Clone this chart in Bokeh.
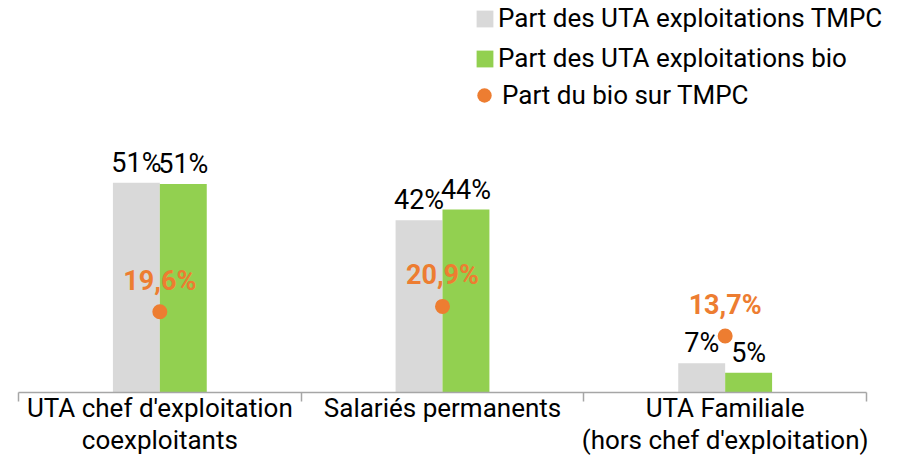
from bokeh.plotting import figure
from bokeh.models import (Range1d, FixedTicker, LinearAxis, Legend, LegendItem,
                          ColumnDataSource, LabelSet)
from bokeh.core.properties import value
from bokeh.embed import file_html
from bokeh.resources import INLINE

# ---- data ----
categories = ["UTA chef d'exploitation\ncoexploitants",
              "Salariés permanents",
              "UTA Familiale\n(hors chef d'exploitation)"]
part_uta_tmpc = [50.9, 41.8, 7.1]
part_uta_bio = [50.6, 44.4, 4.8]
part_bio_sur_tmpc = [19.6, 20.9, 13.7]
series_names = ["Part des UTA exploitations TMPC",
                "Part des UTA exploitations bio",
                "Part du bio sur TMPC"]

GREY = "#D9D9D9"
GREEN = "#92D050"
ORANGE = "#ED7D31"
AXIS = "#A6A6A6"
FONT = "Roboto"
BAR_W = 0.166

W, H = 887, 457
LEFT = 18            # left border (px)
AXIS_LEN = 848       # px spanned by the categories
BOTTOM = 64          # px below the baseline
PX_PER_PCT = 4.13

n = len(categories)
centers = [i + 0.5 for i in range(n)]
boundaries = [float(i) for i in range(n + 1)]

src = ColumnDataSource(dict(
    center=centers,
    x_tmpc=[c - BAR_W / 2 for c in centers],
    x_bio=[c + BAR_W / 2 for c in centers],
    tmpc=part_uta_tmpc,
    bio=part_uta_bio,
    ratio=part_bio_sur_tmpc,
    lab_tmpc=[f"{round(v)}%" for v in part_uta_tmpc],
    lab_bio=[f"{round(v)}%" for v in part_uta_bio],
    lab_ratio=[f"{v:.1f}%".replace(".", ",") for v in part_bio_sur_tmpc],
))

frame_w = W - LEFT
frame_h = H - BOTTOM
p = figure(width=W, height=H,
           x_range=Range1d(0, n * frame_w / AXIS_LEN),
           y_range=Range1d(0, frame_h / PX_PER_PCT),
           output_backend="svg", toolbar_location=None,
           x_axis_location=None, y_axis_location=None,
           min_border_left=LEFT, min_border_right=0, min_border_top=0,
           min_border_bottom=BOTTOM)
p.grid.visible = False
p.outline_line_color = None
p.background_fill_color = "white"
p.border_fill_color = "white"

r_tmpc = p.vbar(x="x_tmpc", top="tmpc", width=BAR_W, source=src,
                fill_color=GREY, line_color=None)
r_bio = p.vbar(x="x_bio", top="bio", width=BAR_W, source=src,
               fill_color=GREEN, line_color=None)
r_ratio = p.scatter(x="center", y="ratio", size=15, source=src,
                    fill_color=ORANGE, line_color=None)

# x axis: category labels at centres, boundary ticks as minor ticks
xaxis = LinearAxis(ticker=FixedTicker(ticks=centers, minor_ticks=boundaries),
                   bounds=(0, n),
                   major_label_overrides={c: lab for c, lab in zip(centers, categories)},
                   axis_line_color=AXIS, axis_line_width=1.5,
                   major_tick_line_color=None, major_tick_out=0, major_tick_in=0,
                   minor_tick_line_color=AXIS, minor_tick_line_width=1.5,
                   minor_tick_out=9, minor_tick_in=0,
                   major_label_standoff=-9,
                   major_label_text_font=FONT, major_label_text_font_size="26px",
                   major_label_text_line_height=1.07,
                   major_label_text_color="black")
p.add_layout(xaxis, "below")

# value labels
p.add_layout(LabelSet(x="x_tmpc", y="tmpc", text="lab_tmpc", source=src, y_offset=11,
                      text_align="center", text_baseline="alphabetic",
                      text_font=value(FONT), text_font_size="27px", text_color="black"))
p.add_layout(LabelSet(x="x_bio", y="bio", text="lab_bio", source=src, y_offset=11,
                      text_align="center", text_baseline="alphabetic",
                      text_font=value(FONT), text_font_size="27px", text_color="black"))
p.add_layout(LabelSet(x="center", y="ratio", text="lab_ratio", source=src, y_offset=22,
                      text_align="center", text_baseline="alphabetic",
                      text_font=value(FONT), text_font_size="27px", text_font_style="bold",
                      text_color=ORANGE))

# legends
leg_a = Legend(items=[LegendItem(label=series_names[0], renderers=[r_tmpc]),
                      LegendItem(label=series_names[1], renderers=[r_bio])],
               location=(456, 319), glyph_width=21, glyph_height=21,
               label_standoff=3, spacing=10, padding=0, margin=0,
               label_text_font=FONT, label_text_font_size="26px",
               label_text_color="black",
               background_fill_alpha=0, border_line_alpha=0)
leg_b = Legend(items=[LegendItem(label=series_names[2], renderers=[r_ratio])],
               location=(448, 279), glyph_width=36, glyph_height=36,
               label_standoff=0, spacing=0, padding=0, margin=0,
               label_text_font=FONT, label_text_font_size="26px",
               label_text_color="black",
               background_fill_alpha=0, border_line_alpha=0)
p.add_layout(leg_a, "center")
p.add_layout(leg_b, "center")

open("out.html", "w").write(file_html(p, INLINE))
